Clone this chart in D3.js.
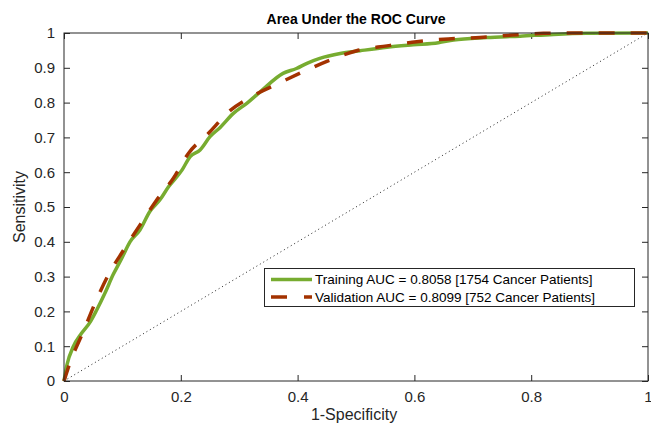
<!DOCTYPE html>
<html><head><meta charset="utf-8">
<script src="https://cdn.jsdelivr.net/npm/d3@7"></script>
<style>body{margin:0;background:#fff}svg{display:block;font-family:"Liberation Sans",Arial,sans-serif}</style>
</head><body><svg id="c" width="651" height="424"></svg>
<script>
const trainFpr = [0,0.005,0.016,0.030,0.045,0.056,0.070,0.084,0.099,0.113,0.130,0.147,0.164,0.179,0.202,0.216,0.233,0.250,0.267,0.290,0.313,0.336,0.375,0.398,0.416,0.438,0.473,0.507,0.553,0.598,0.641,0.667,0.724,0.781,0.838,0.895,1];
const trainTpr = [0,0.046,0.099,0.137,0.170,0.204,0.252,0.305,0.353,0.400,0.434,0.487,0.520,0.558,0.606,0.645,0.664,0.702,0.728,0.769,0.798,0.831,0.884,0.898,0.913,0.927,0.941,0.949,0.959,0.966,0.972,0.980,0.987,0.991,0.996,0.999,1];
const validFpr = [0,0.010,0.033,0.053,0.076,0.102,0.130,0.157,0.187,0.213,0.247,0.283,0.321,0.367,0.410,0.455,0.501,0.553,0.604,0.658,0.712,0.767,0.821,0.878,1];
const validTpr = [0,0.051,0.142,0.223,0.305,0.376,0.448,0.516,0.582,0.654,0.711,0.775,0.817,0.855,0.889,0.922,0.949,0.963,0.975,0.983,0.987,0.994,0.999,1,1];
const xTicks = [0,0.2,0.4,0.6,0.8,1];
const yTicks = [0,0.1,0.2,0.3,0.4,0.5,0.6,0.7,0.8,0.9,1];
const legendLabels = ["Training AUC = 0.8058 [1754 Cancer Patients]","Validation AUC = 0.8099 [752 Cancer Patients]"];

const svg = d3.select("#c");
const L=64,R=648,T=33,B=381;
const x = d3.scaleLinear().domain([0,1]).range([L,R]);
const y = d3.scaleLinear().domain([0,1]).range([B,T]);
const ax = "#262626";
const fmt = d => d===0?"0":d===1?"1":String(d);

// axes
const gx = svg.append("g").attr("transform",`translate(0,${B})`)
  .call(d3.axisBottom(x).tickValues(xTicks).tickFormat(fmt).tickSizeInner(-6).tickSizeOuter(0).tickPadding(10));
const gxt = svg.append("g").attr("transform",`translate(0,${T})`)
  .call(d3.axisTop(x).tickValues(xTicks).tickFormat("").tickSizeInner(-6).tickSizeOuter(0));
const gy = svg.append("g").attr("transform",`translate(${L},0)`)
  .call(d3.axisLeft(y).tickValues(yTicks).tickFormat(fmt).tickSizeInner(-6).tickSizeOuter(0).tickPadding(9));
const gyr = svg.append("g").attr("transform",`translate(${R},0)`)
  .call(d3.axisRight(y).tickValues(yTicks).tickFormat("").tickSizeInner(-6).tickSizeOuter(0));
[gx,gxt,gy,gyr].forEach(g=>{
  g.select(".domain").remove();
  g.selectAll("line").attr("stroke",ax);
  g.selectAll("text").attr("fill",ax).style("font-size","15px").style("font-family","'Liberation Sans',Arial,sans-serif");
});

// diagonal
svg.append("line").attr("x1",x(0)).attr("y1",y(0)).attr("x2",x(1)).attr("y2",y(1))
  .attr("stroke","#222").attr("stroke-width",1).attr("stroke-dasharray","1,3");

const line = d3.line().x(d=>x(d[0])).y(d=>y(d[1])).curve(d3.curveMonotoneX);
const trainPts = trainFpr.map((f,i)=>[f,trainTpr[i]]);
const validPts = validFpr.map((f,i)=>[f,validTpr[i]]);
svg.append("path").attr("d",line(trainPts)).attr("fill","none").attr("stroke","#77AC30").attr("stroke-width",3.5).attr("stroke-linejoin","round");
svg.append("path").attr("d",line(validPts)).attr("fill","none").attr("stroke","#A33200").attr("stroke-width",3.5).attr("stroke-dasharray","16,16");

// box
svg.append("rect").attr("x",L).attr("y",T).attr("width",R-L).attr("height",B-T).attr("fill","none").attr("stroke",ax).attr("stroke-width",1);

// labels
svg.append("text").attr("x",(L+R)/2).attr("y",24).attr("text-anchor","middle").attr("font-weight","bold").attr("font-size",14).attr("fill","#000").text("Area Under the ROC Curve");
svg.append("text").attr("x",(L+R)/2-2).attr("y",420).attr("text-anchor","middle").attr("font-size",16).attr("fill",ax).text("1-Specificity");
svg.append("text").attr("transform",`translate(25,${(T+B)/2}) rotate(-90)`).attr("text-anchor","middle").attr("font-size",16).attr("fill",ax).text("Sensitivity");

// legend
const lg = svg.append("g");
lg.append("rect").attr("x",264.5).attr("y",268.5).attr("width",370).attr("height",38).attr("fill","#fff").attr("stroke",ax).attr("stroke-width",1);
const colors=["#77AC30","#A33200"], dashes=[null,"16,17"];
legendLabels.forEach((t,i)=>{
  const cy = 279.5 + i*17.5;
  lg.append("line").attr("x1",271).attr("x2",312).attr("y1",cy).attr("y2",cy).attr("stroke",colors[i]).attr("stroke-width",3.5).attr("stroke-dasharray",dashes[i]);
  lg.append("text").attr("x",315).attr("y",cy+4.5).attr("font-size",13.5).attr("fill","#000").text(t);
});
</script></body></html>
